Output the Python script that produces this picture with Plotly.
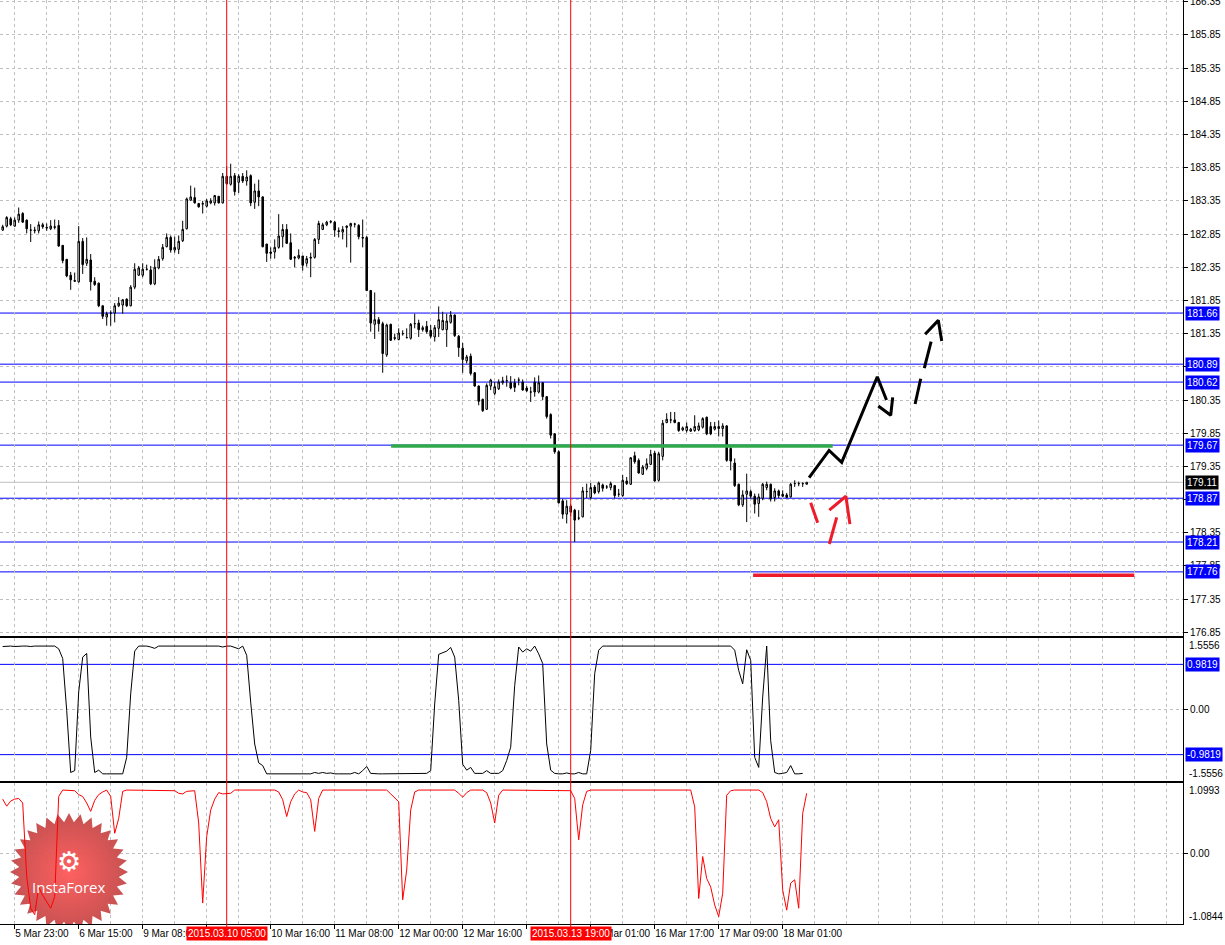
import numpy as np
import plotly.graph_objects as go
from plotly.subplots import make_subplots

# ---------------- data ----------------
opens = [182.91,182.97,183.08,182.97,183.06,183.16,183.06,182.91,182.90,182.90,
         182.99,182.94,182.93,182.95,182.98,182.68,182.47,182.23,182.15,182.13,
         182.74,182.41,182.46,182.14,182.11,181.77,181.60,181.66,181.66,181.77,
         181.78,181.87,181.77,182.05,182.23,182.23,182.32,182.31,182.10,182.34,
         182.48,182.66,182.80,182.61,182.62,182.75,182.93,183.36,183.40,183.31,
         183.30,183.27,183.32,183.32,183.42,183.32,183.72,183.60,183.73,183.63,
         183.72,183.65,183.73,183.33,183.50,183.41,182.70,182.58,182.58,182.65,
         182.81,182.92,182.72,182.50,182.49,182.52,182.41,182.50,182.50,182.77,
         182.92,182.99,183.03,183.03,182.90,182.88,182.95,182.97,183.00,182.98,
         182.80,182.80,182.00,181.49,181.56,181.50,181.03,181.49,181.29,181.26,
         181.35,181.29,181.28,181.50,181.51,181.41,181.46,181.40,181.30,181.43,
         181.41,181.41,181.52,181.63,181.31,181.13,180.94,181.01,180.76,180.56,
         180.36,180.21,180.56,180.45,180.52,180.61,180.64,180.61,180.61,180.65,
         180.62,180.53,180.47,180.62,180.47,180.61,180.40,180.13,179.84,179.57,
         178.83,178.63,178.75,178.69,178.57,178.59,178.97,178.88,179.04,178.97,
         179.07,179.04,179.03,179.06,178.93,178.91,179.13,179.08,179.51,179.44,
         179.23,179.32,179.38,179.55,179.14,179.50,180.01,180.05,180.05,180.01,
         179.90,179.89,179.88,179.89,179.90,179.94,180.09,179.95,179.91,179.92,
         179.92,179.96,179.62,179.40,179.08,178.77,178.93,178.97,178.90,178.79,
         178.87,179.03,179.08,178.88,178.98,178.93,178.92,178.89,179.09,179.09,
         179.09,179.08]
highs = [182.99,183.12,183.11,183.10,183.25,183.18,183.07,183.00,182.96,183.04,
         183.02,183.01,183.06,183.07,183.06,182.68,182.47,182.28,182.27,182.97,
         182.79,182.80,182.55,182.20,182.12,181.77,181.68,181.70,181.81,181.90,
         181.87,181.88,182.08,182.41,182.37,182.41,182.39,182.37,182.47,182.52,
         182.70,182.86,182.83,182.81,182.83,183.05,183.40,183.58,183.55,183.32,
         183.35,183.38,183.39,183.44,183.42,183.77,183.87,183.91,183.77,183.75,
         183.77,183.81,183.75,183.61,183.67,183.42,182.70,182.65,182.77,183.15,
         183.00,183.00,182.86,182.52,182.62,182.52,182.52,182.57,182.79,183.05,
         183.02,183.05,183.06,183.05,182.95,182.97,182.98,183.02,183.02,183.00,
         183.07,182.82,182.00,181.97,181.60,181.53,181.50,181.50,181.35,181.43,
         181.40,181.43,181.51,181.65,181.56,181.47,181.54,181.48,181.48,181.76,
         181.68,181.65,181.69,181.64,181.33,181.21,181.03,181.05,180.77,180.57,
         180.37,180.60,180.67,180.62,180.66,180.70,180.72,180.71,180.67,180.69,
         180.66,180.56,180.55,180.69,180.72,180.62,180.41,180.15,179.85,179.59,
         178.86,178.84,178.78,178.71,178.69,179.04,179.09,179.10,179.07,179.12,
         179.09,179.07,179.12,179.07,179.01,179.22,179.19,179.49,179.57,179.47,
         179.37,179.47,179.60,179.58,179.57,180.05,180.15,180.17,180.17,180.02,
         179.95,180.01,179.93,180.12,180.01,180.09,180.10,180.02,180.02,180.04,
         180.00,179.97,179.64,179.47,179.09,178.99,179.24,179.00,178.94,178.94,
         179.10,179.12,179.09,179.02,179.00,178.99,178.95,179.10,179.14,179.12,
         179.11,179.11]
lows = [182.90,182.95,182.97,182.96,183.02,183.02,182.86,182.73,182.86,182.86,
        182.93,182.90,182.91,182.92,182.66,182.41,182.20,182.01,182.13,182.12,
        182.25,182.37,182.00,182.07,181.75,181.57,181.47,181.47,181.52,181.75,
        181.65,181.75,181.76,182.02,182.22,182.20,182.30,182.08,182.08,182.32,
        182.45,182.65,182.57,182.57,182.55,182.73,182.92,183.35,183.31,183.25,
        183.16,183.25,183.30,183.28,183.31,183.31,183.59,183.58,183.43,183.47,
        183.62,183.58,183.27,183.23,183.27,182.65,182.43,182.48,182.48,182.63,
        182.65,182.70,182.46,182.35,182.47,182.30,182.36,182.20,182.48,182.70,
        182.91,182.97,183.01,182.81,182.80,182.77,182.65,182.42,182.95,182.77,
        182.65,181.99,181.38,181.27,181.38,180.76,181.00,181.24,181.25,181.25,
        181.32,181.28,181.26,181.43,181.30,181.38,181.35,181.28,181.23,181.30,
        181.40,181.15,181.50,181.30,181.00,180.76,180.90,180.72,180.55,180.27,
        180.17,180.20,180.50,180.42,180.50,180.58,180.55,180.51,180.47,180.57,
        180.49,180.47,180.32,180.40,180.45,180.35,180.07,179.77,179.54,178.79,
        178.56,178.49,178.60,178.21,178.54,178.58,178.87,178.85,178.93,178.94,
        178.97,179.01,178.99,178.87,178.89,178.89,179.07,179.07,179.39,179.24,
        179.22,179.29,179.37,179.12,179.12,179.44,180.00,180.00,180.00,179.87,
        179.88,179.86,179.87,179.87,179.88,179.92,179.82,179.82,179.89,179.80,
        179.80,179.42,179.29,179.04,178.75,178.74,178.51,178.86,178.64,178.59,
        178.84,178.99,178.82,178.82,178.87,178.89,178.87,178.88,179.04,179.05,
        179.04,179.08]
closes = [182.96,183.10,182.99,183.06,183.15,183.03,182.93,182.91,182.91,182.99,
          182.96,182.95,182.97,182.96,182.67,182.45,182.22,182.16,182.14,182.74,
          182.39,182.47,182.13,182.09,181.77,181.61,181.65,181.66,181.77,181.81,
          181.86,181.77,182.05,182.32,182.34,182.32,182.32,182.10,182.35,182.47,
          182.65,182.80,182.61,182.65,182.74,182.92,183.38,183.41,183.32,183.26,
          183.31,183.35,183.35,183.43,183.32,183.72,183.61,183.72,183.49,183.72,
          183.65,183.71,183.32,183.50,183.41,182.66,182.56,182.56,182.65,182.82,
          182.92,182.71,182.47,182.49,182.53,182.38,182.48,182.49,182.77,183.01,
          182.99,183.03,183.04,182.91,182.89,182.92,182.97,183.01,183.00,182.81,
          182.79,182.00,181.51,181.56,181.50,181.05,181.48,181.25,181.28,181.36,
          181.35,181.29,181.49,181.50,181.41,181.44,181.38,181.31,181.44,181.56,
          181.55,181.54,181.63,181.32,181.14,180.96,181.00,180.75,180.56,180.33,
          180.19,180.57,180.65,180.55,180.62,180.64,180.64,180.53,180.54,180.65,
          180.50,180.49,180.47,180.47,180.61,180.40,180.10,179.82,179.57,178.80,
          178.63,178.75,178.66,178.54,178.57,178.98,178.97,179.03,178.95,179.10,
          179.02,179.04,179.09,178.91,178.93,179.14,179.09,179.48,179.42,179.25,
          179.34,179.39,179.53,179.13,179.54,180.00,180.06,180.05,180.01,179.89,
          179.93,179.95,179.91,179.95,179.96,180.07,179.84,179.84,179.95,179.95,
          179.96,179.44,179.43,179.06,178.77,178.92,178.98,178.90,178.78,178.89,
          179.08,179.08,178.86,178.98,178.91,178.90,178.88,179.08,179.09,179.09,
          179.09,179.11]

osc_a = [1.37,1.38,1.38,1.37,1.38,1.38,1.38,1.37,1.38,1.38,
         1.38,1.37,1.38,1.38,1.32,1.11,-0.02,-1.37,-1.33,0.38,
         1.14,1.22,-0.60,-1.37,-1.32,-1.40,-1.40,-1.40,-1.40,-1.40,
         -1.40,-1.04,0.34,1.27,1.38,1.38,1.38,1.36,1.33,1.38,
         1.38,1.38,1.37,1.38,1.38,1.38,1.38,1.38,1.37,1.38,
         1.38,1.38,1.38,1.37,1.38,1.36,1.38,1.38,1.35,1.32,
         1.38,1.18,0.16,-0.75,-1.16,-1.22,-1.40,-1.40,-1.40,-1.40,
         -1.40,-1.40,-1.40,-1.40,-1.40,-1.40,-1.40,-1.40,-1.37,-1.39,
         -1.37,-1.39,-1.38,-1.40,-1.40,-1.40,-1.40,-1.40,-1.37,-1.40,
         -1.33,-1.24,-1.39,-1.40,-1.40,-1.40,-1.40,-1.40,-1.40,-1.40,
         -1.40,-1.40,-1.40,-1.40,-1.40,-1.39,-1.39,-1.33,0.12,1.20,
         1.23,1.27,1.35,1.14,0.20,-1.19,-1.32,-1.26,-1.39,-1.39,
         -1.39,-1.33,-1.39,-1.39,-1.39,-1.33,-1.11,-0.82,0.52,1.36,
         1.25,1.32,1.27,1.38,1.21,1.00,-0.75,-1.32,-1.39,-1.40,
         -1.40,-1.38,-1.40,-1.40,-1.37,-1.40,-1.40,-0.89,0.78,1.29,
         1.38,1.38,1.38,1.37,1.38,1.38,1.38,1.38,1.37,1.38,
         1.38,1.38,1.38,1.38,1.37,1.38,1.38,1.38,1.38,1.38,
         1.37,1.38,1.38,1.38,1.38,1.38,1.37,1.38,1.38,1.38,
         1.38,1.38,1.38,1.29,0.85,0.56,1.30,1.07,-1.04,-1.26,
         0.27,1.38,-0.68,-1.37,-1.40,-1.39,-1.37,-1.22,-1.40,-1.40,
         -1.39]

osc_b = [0.85,0.74,0.82,0.85,0.86,0.79,-0.35,-0.84,-0.94,-0.51,
         -0.64,-0.75,-0.84,-0.66,0.89,0.99,0.99,0.99,0.98,0.92,
         0.89,0.79,0.66,0.83,0.92,0.96,0.99,0.89,0.32,0.55,
         0.97,0.99,0.99,0.99,0.99,0.99,0.99,0.99,0.99,0.99,
         0.99,0.99,0.99,0.98,0.94,0.93,0.97,0.98,0.98,0.48,
         -0.76,0.27,0.68,0.85,0.95,0.93,0.94,0.94,0.99,0.99,
         0.99,0.99,0.99,0.99,0.99,0.99,0.99,0.99,0.99,0.96,
         0.84,0.58,0.81,0.93,0.99,0.96,0.95,0.84,0.35,0.86,
         0.99,0.99,0.99,0.99,0.99,0.99,0.99,0.99,0.99,0.99,
         0.99,0.99,0.99,0.99,0.99,0.99,0.99,0.93,0.87,0.81,
         -0.71,-0.25,0.68,0.96,0.99,0.99,0.99,0.99,0.99,0.99,
         0.99,0.99,0.99,0.99,0.94,0.88,0.95,0.99,0.99,0.99,
         0.99,0.95,0.79,0.48,0.91,0.99,0.99,0.99,0.99,0.99,
         0.99,0.99,0.99,0.99,0.99,0.99,0.99,0.99,0.99,0.99,
         0.99,0.99,0.98,0.86,0.22,0.76,0.97,0.99,0.99,0.99,
         0.99,0.99,0.99,0.99,0.99,0.99,0.99,0.99,0.99,0.99,
         0.99,0.99,0.99,0.99,0.99,0.99,0.99,0.99,0.99,0.99,
         0.99,0.99,0.99,0.73,-0.69,-0.04,-0.38,-0.51,-0.79,-0.97,
         -0.61,0.91,0.98,0.99,0.99,0.99,0.99,0.99,0.99,0.99,
         0.95,0.81,0.55,0.42,0.53,-0.56,-0.87,-0.45,-0.40,-0.84,
         0.63,0.94]

time_tick_pos = [3, 19, 35, 51, 67, 83, 99, 115, 131, 147, 163, 179, 195]
time_tick_text = ["5 Mar 23:00", "6 Mar 15:00", "9 Mar 08:00", "10 Mar 00:00",
                  "10 Mar 16:00", "11 Mar 08:00", "12 Mar 00:00", "12 Mar 16:00",
                  "13 Mar 08:00", "16 Mar 01:00", "16 Mar 17:00", "17 Mar 09:00",
                  "18 Mar 01:00"]
hidden_time_labels = ["10 Mar 00:00", "13 Mar 08:00"]   # fully covered by the red time boxes
price_ticks = [176.85, 177.35, 177.85, 178.35, 178.85, 179.35, 179.85, 180.35,
               180.85, 181.35, 181.85, 182.35, 182.85, 183.35, 183.85, 184.35,
               184.85, 185.35, 185.85, 186.35]
hidden_price_labels = [178.85, 180.85]   # covered by the level boxes in the picture
blue_levels = [181.66, 180.89, 180.62, 179.67, 178.87, 178.21, 177.76]
bid_price = 179.11
osc_a_levels = [0.9819, -0.9819]
osc_a_range = [-1.5556, 1.5556]
osc_b_range = [-1.0844, 1.0993]
marker_bars = [56, 142]
marker_labels = ["2015.03.10 05:00", "2015.03.13 19:00"]

green_x = [97.1, 207.5]
green_y = [179.655, 179.655]
redlvl_x = [187.6, 282.9]
redlvl_y = [177.71, 177.71]
path_black_x = [201.6, 206.6, 209.75, 218.65, 220.95, None, 218.9, 222.0, 222.5,
                None, 228.1, 229.5, None, 230.4, 232.1, None, 230.6, 233.9, 234.75]
path_black_y = [179.18, 179.59, 179.41, 180.70, 180.35, None, 180.26, 180.12, 180.39,
                None, 180.29, 180.67, None, 180.83, 181.23, None, 181.34, 181.55, 181.24]
path_red_x = [202.0, 203.75, None, 206.65, 210.8, 211.8, None, 208.5, 206.65]
path_red_y = [178.80, 178.50, None, 178.69, 178.90, 178.48, None, 178.58, 178.18]

# ---------------- layout geometry ----------------
W, H = 1225, 945
ML, MR, MT, MB = 0, 42, 0, 21
PW, PH = W - ML - MR, H - MT - MB
X_RANGE = [-0.675, 295.075]
MAIN_RANGE = [176.794, 186.377]

def py(ypx):
    return 1 - ypx / PH

FONT = "Liberation Sans, Arial, sans-serif"
GRID = "#c0c0c0"
DASH = "3px,3px"

fig = make_subplots(rows=3, cols=1, shared_xaxes=True, vertical_spacing=0)

idx = list(range(len(opens)))
fig.add_trace(go.Candlestick(
    x=idx, open=opens, high=highs, low=lows, close=closes,
    increasing=dict(line=dict(color="black", width=1), fillcolor="white"),
    decreasing=dict(line=dict(color="black", width=1), fillcolor="black"),
    whiskerwidth=0, hoverinfo="skip", showlegend=False), row=1, col=1)

fig.add_trace(go.Scatter(x=green_x, y=green_y, mode="lines",
                         line=dict(color="#2eaa4a", width=3.5), hoverinfo="skip"), row=1, col=1)
fig.add_trace(go.Scatter(x=redlvl_x, y=redlvl_y, mode="lines",
                         line=dict(color="#ee1c2a", width=3.5), hoverinfo="skip"), row=1, col=1)
fig.add_trace(go.Scatter(x=path_black_x, y=path_black_y, mode="lines",
                         line=dict(color="black", width=3), hoverinfo="skip"), row=1, col=1)
fig.add_trace(go.Scatter(x=path_red_x, y=path_red_y, mode="lines",
                         line=dict(color="#ee1c2a", width=3), hoverinfo="skip"), row=1, col=1)

fig.add_trace(go.Scatter(x=list(range(len(osc_a))), y=osc_a, mode="lines",
                         line=dict(color="black", width=1), hoverinfo="skip"), row=2, col=1)

# logo (star badge) drawn under the red indicator line in panel 3
def px_to_b(xp, yp):
    i = (xp - 2.7) / 4.0
    v = osc_b_range[1] - (yp - 783) * (osc_b_range[1] - osc_b_range[0]) / 141.0
    return i, v

cx, cy, R, r, n = 69, 872, 59, 50, 32
sx, sy = [], []
for k in range(2 * n + 1):
    ang = np.pi / 2 + k * np.pi / n
    rad = R if k % 2 == 0 else r
    a, b = px_to_b(cx + rad * np.cos(ang), cy - rad * np.sin(ang))
    sx.append(a)
    sy.append(b)
fig.add_trace(go.Scatter(x=sx, y=sy, mode="lines", fill="toself",
                         line=dict(width=0, color="rgba(0,0,0,0)"),
                         fillcolor="rgba(222,70,70,0.92)",
                         fillgradient=dict(type="radial",
                                           colorscale=[[0, "rgba(255,88,88,0.95)"],
                                                       [1, "rgba(196,72,72,0.95)"]]),
                         hoverinfo="skip"), row=3, col=1)

fig.add_trace(go.Scatter(x=list(range(len(osc_b))), y=osc_b, mode="lines",
                         line=dict(color="#ff0000", width=1), hoverinfo="skip"), row=3, col=1)

# ---------------- axes ----------------
grid_pos = list(range(3, 292, 8))
grid_text = []
for g in grid_pos:
    if g in time_tick_pos:
        t = time_tick_text[time_tick_pos.index(g)]
        grid_text.append("" if t in hidden_time_labels else t)
    else:
        grid_text.append("")

common_x = dict(range=X_RANGE, autorange=False, showgrid=True, gridcolor=GRID, griddash=DASH,
                gridwidth=1, zeroline=False, tickmode="array", tickvals=grid_pos,
                rangeslider=dict(visible=False), fixedrange=True, automargin=False,
                tickangle=0)
fig.update_layout(
    xaxis=dict(**common_x, showticklabels=False, ticks="", showline=True, linecolor="black",
               linewidth=1, mirror=False),
    xaxis2=dict(**common_x, showticklabels=False, ticks="", showline=True, linecolor="black",
                linewidth=1, mirror=True),
    xaxis3=dict(**common_x, ticktext=grid_text, showticklabels=True, ticks="",
                ticklabelposition="outside right", showline=True, linecolor="black",
                linewidth=1, mirror=True,
                tickfont=dict(family=FONT, size=10, color="black"),
                minor=dict(tickmode="array", tickvals=time_tick_pos, ticks="outside",
                           ticklen=4, tickcolor="black", tickwidth=1, showgrid=False)),
    yaxis=dict(domain=[py(636), 1.0], range=MAIN_RANGE, autorange=False, side="right",
               tickmode="array", tickvals=price_ticks,
               ticktext=["" if t in hidden_price_labels else "%.2f" % t for t in price_ticks],
               showgrid=True, gridcolor=GRID, griddash=DASH, zeroline=False,
               ticks="outside", ticklen=4, tickcolor="black", showline=True,
               linecolor="black", tickfont=dict(family=FONT, size=10, color="black"),
               fixedrange=True, automargin=False, ticklabeloverflow="allow"),
    yaxis2=dict(domain=[py(781), py(638)], range=osc_a_range, autorange=False, side="right",
                tickmode="array", tickvals=[0], ticktext=["0.00"],
                showgrid=True, gridcolor=GRID, griddash=DASH, zeroline=False,
                ticks="outside", ticklen=4, tickcolor="black", showline=True,
                linecolor="black", tickfont=dict(family=FONT, size=10, color="black"),
                fixedrange=True, automargin=False),
    yaxis3=dict(domain=[0, py(783)], range=osc_b_range, autorange=False, side="right",
                tickmode="array", tickvals=[0], ticktext=["0.00"],
                showgrid=True, gridcolor=GRID, griddash=DASH, zeroline=False,
                ticks="outside", ticklen=4, tickcolor="black", showline=True,
                linecolor="black", tickfont=dict(family=FONT, size=10, color="black"),
                fixedrange=True, automargin=False),
)

# ---------------- shapes ----------------
shapes = []
for lv in blue_levels:
    shapes.append(dict(type="line", xref="paper", yref="y", x0=0, x1=1, y0=lv, y1=lv,
                       line=dict(color="#0000ff", width=1), layer="below"))
shapes.append(dict(type="line", xref="paper", yref="y", x0=0, x1=1, y0=bid_price, y1=bid_price,
                   line=dict(color="#c0c0c0", width=1), layer="below"))
for lv in osc_a_levels:
    shapes.append(dict(type="line", xref="paper", yref="y2", x0=0, x1=1, y0=lv, y1=lv,
                       line=dict(color="#0000ff", width=1), layer="below"))
for b in marker_bars:
    shapes.append(dict(type="line", xref="x", yref="paper", x0=b, x1=b, y0=-0.004, y1=1,
                       line=dict(color="#ff0000", width=1), layer="above"))
fig.update_layout(shapes=shapes)

# ---------------- annotations ----------------
ann = []
def axis_box(text, y, yref, bg):
    return dict(text=text, x=1, xref="paper", xanchor="left", xshift=2, y=y, yref=yref,
                yanchor="middle", showarrow=False, bgcolor=bg, borderpad=1,
                font=dict(family=FONT, size=10, color="white"))

for lv in blue_levels:
    ann.append(axis_box("%.2f" % lv, lv, "y", "#0000ff"))
ann.append(axis_box("%.2f" % bid_price, bid_price, "y", "#000000"))
for lv in osc_a_levels:
    ann.append(axis_box("%.4f" % lv, lv, "y2", "#0000ff"))

for txt, ypx in [("%.4f" % osc_a_range[1], 645), ("%.4f" % osc_a_range[0], 773),
                 ("%.4f" % osc_b_range[1], 790), ("%.4f" % osc_b_range[0], 916)]:
    ann.append(dict(text=txt, x=1, xref="paper", xanchor="left", xshift=4, y=py(ypx),
                    yref="paper", yanchor="middle", showarrow=False,
                    font=dict(family=FONT, size=10, color="black")))

for b, lab in zip(marker_bars, marker_labels):
    ann.append(dict(text=lab, x=b, xref="x3", xanchor="center", y=0, yref="paper",
                    yanchor="top", yshift=-2, showarrow=False, bgcolor="#ff0000",
                    borderpad=1, font=dict(family=FONT, size=10, color="white")))

ann.append(dict(text="\u2699", x=cx / PW, xref="paper", xanchor="center", y=py(861),
                yref="paper", yanchor="middle", showarrow=False,
                font=dict(family="DejaVu Sans", size=27, color="white")))
ann.append(dict(text="InstaForex", x=cx / PW, xref="paper", xanchor="center", y=py(887),
                yref="paper", yanchor="middle", showarrow=False,
                font=dict(family="Open Sans, Liberation Sans", size=15, color="white")))
fig.update_layout(annotations=ann)

fig.update_layout(width=W, height=H, margin=dict(l=ML, r=MR, t=MT, b=MB, autoexpand=False),
                  paper_bgcolor="white", plot_bgcolor="white", showlegend=False,
                  boxgap=0.45, hovermode=False)

fig.write_html("out.html", config={"displayModeBar": False},
               post_script="document.body.style.margin='0';document.body.style.overflow='hidden';")
